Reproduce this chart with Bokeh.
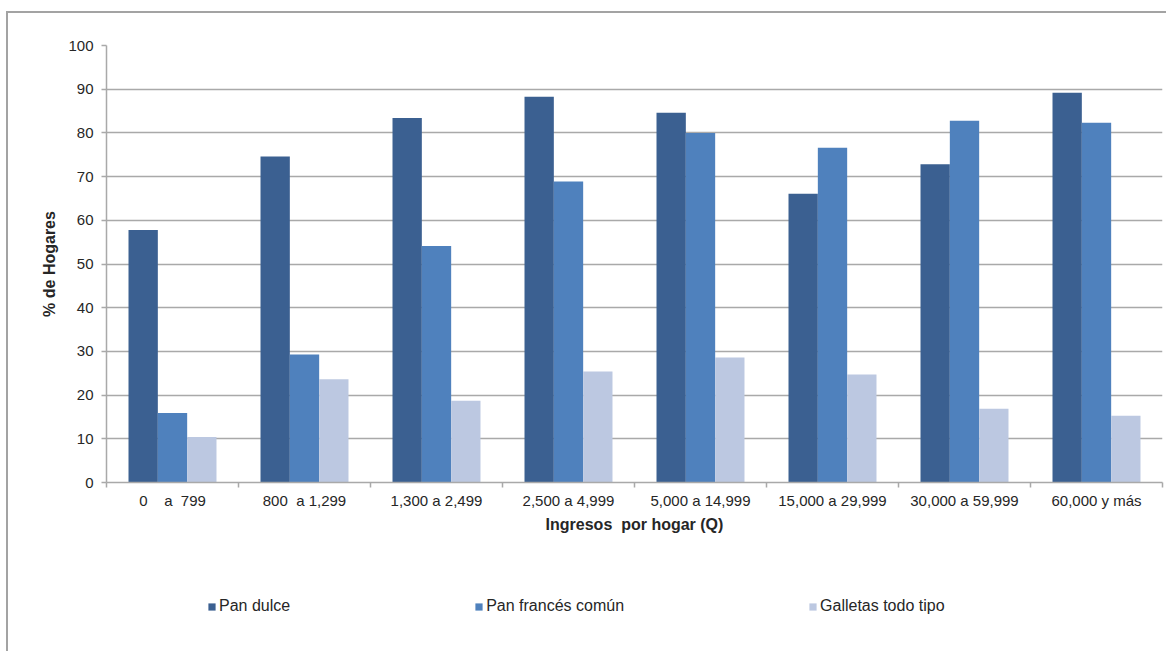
import numpy as np
from bokeh.plotting import figure
from bokeh.layouts import column
from bokeh.models import (ColumnDataSource, FixedTicker, CustomJSTickFormatter,
                          Legend, LegendItem, Range1d)
from bokeh.transform import dodge
from bokeh.embed import file_html
from bokeh.resources import INLINE

NB = "\u00a0"

# Income brackets (quetzales per household)
ingresos = [
    "0" + NB * 4 + "a" + NB * 2 + "799",
    "800" + NB * 2 + "a 1,299",
    "1,300 a 2,499",
    "2,500 a 4,999",
    "5,000 a 14,999",
    "15,000 a 29,999",
    "30,000 a 59,999",
    "60,000 y más",
]

# Share of households (%) buying each product
pan_dulce = [57.8, 74.6, 83.4, 88.3, 84.6, 66.1, 72.8, 89.2]
pan_frances = [15.9, 29.3, 54.1, 68.9, 80.0, 76.6, 82.8, 82.3]
galletas = [10.4, 23.6, 18.7, 25.4, 28.6, 24.7, 16.9, 15.3]

series_names = ["Pan dulce", "Pan francés común", "Galletas todo tipo"]
y_ticks = list(range(0, 101, 10))

colors = ["#3b6091", "#4f81bd", "#bcc8e1"]
FONT = "Liberation Sans"
TXT = "#262626"
GRID = "#a9a9a9"

source = ColumnDataSource(dict(
    pos=np.arange(len(ingresos)) + 0.5,
    pan_dulce=pan_dulce,
    pan_frances=pan_frances,
    galletas=galletas,
))

# ---- main bar chart ----
p = figure(
    width=1158, height=547,
    x_range=Range1d(0, len(ingresos)), y_range=Range1d(0, 100),
    output_backend="svg", toolbar_location=None,
    min_border_left=98, min_border_right=4, min_border_top=32, min_border_bottom=78,
)
p.outline_line_color = None
p.background_fill_color = "white"
p.border_fill_color = "white"

bw = 0.2222
cols = ["pan_dulce", "pan_frances", "galletas"]
for i, col in enumerate(cols):
    p.vbar(x=dodge("pos", (i - 1) * bw, range=p.x_range), top=col, bottom=0,
           width=bw, source=source, fill_color=colors[i], line_color=None)

# x axis: labels centred in each bracket, ticks on the bracket boundaries
xa = p.xaxis[0]
xa.ticker = FixedTicker(ticks=list(np.arange(len(ingresos)) + 0.5),
                        minor_ticks=list(range(len(ingresos) + 1)))
xa.formatter = CustomJSTickFormatter(args=dict(labels=ingresos),
                                     code="return labels[Math.floor(tick)] || '';")
xa.major_tick_out = 0
xa.major_tick_in = 0
xa.minor_tick_out = 5
xa.minor_tick_in = 0
xa.minor_tick_line_color = GRID
xa.minor_tick_line_width = 1.5
xa.axis_line_color = GRID
xa.axis_line_width = 1.5
xa.major_label_standoff = 4
xa.major_label_text_font = FONT
xa.major_label_text_font_size = "15px"
xa.major_label_text_color = TXT
xa.axis_label = "Ingresos" + NB * 2 + "por hogar (Q)"
xa.axis_label_text_font = FONT
xa.axis_label_text_font_size = "16px"
xa.axis_label_text_font_style = "bold"
xa.axis_label_text_color = TXT
xa.axis_label_standoff = 4

ya = p.yaxis[0]
ya.ticker = FixedTicker(ticks=y_ticks)
ya.major_tick_out = 5
ya.major_tick_in = 0
ya.minor_tick_out = 0
ya.minor_tick_in = 0
ya.major_tick_line_color = GRID
ya.major_tick_line_width = 1.5
ya.axis_line_color = GRID
ya.axis_line_width = 1.5
ya.major_label_standoff = 8
ya.major_label_text_font = FONT
ya.major_label_text_font_size = "15px"
ya.major_label_text_color = TXT
ya.axis_label = "% de Hogares"
ya.axis_label_text_font = FONT
ya.axis_label_text_font_size = "16px"
ya.axis_label_text_font_style = "bold"
ya.axis_label_text_color = TXT
ya.axis_label_standoff = 7

p.xgrid.visible = False
p.ygrid.ticker = FixedTicker(ticks=y_ticks)
p.ygrid.grid_line_color = GRID
p.ygrid.grid_line_width = 1.5

# ---- legend strip under the chart ----
leg = figure(
    width=1158, height=91,
    x_range=Range1d(0, 1), y_range=Range1d(0, 1),
    output_backend="svg", toolbar_location=None,
    x_axis_location=None, y_axis_location=None,
    min_border=0,
)
leg.outline_line_color = None
leg.xgrid.visible = False
leg.ygrid.visible = False
# zero-height swatch bars placed outside the visible range, used only as legend keys
swatches = [leg.vbar(x=[-1], top=[0], width=0.1, fill_color=c, line_color=None)
            for c in colors]

legend = Legend(
    items=[LegendItem(label=n, renderers=[r]) for n, r in zip(series_names, swatches)],
    orientation="horizontal",
    location=(101, 36),
    glyph_width=9, glyph_height=9,
    label_standoff=3, spacing=184,
    padding=0, margin=0,
    label_text_font=FONT, label_text_font_size="16px", label_text_color=TXT,
    border_line_color=None, background_fill_alpha=0,
)
leg.add_layout(legend, "center")

page = column(p, leg, spacing=0, margin=(11, 0, 0, 6))
page.styles = {"border-left": "2px solid #a3a3a3", "border-top": "2px solid #a3a3a3"}

open("out.html", "w").write(file_html(page, INLINE))
